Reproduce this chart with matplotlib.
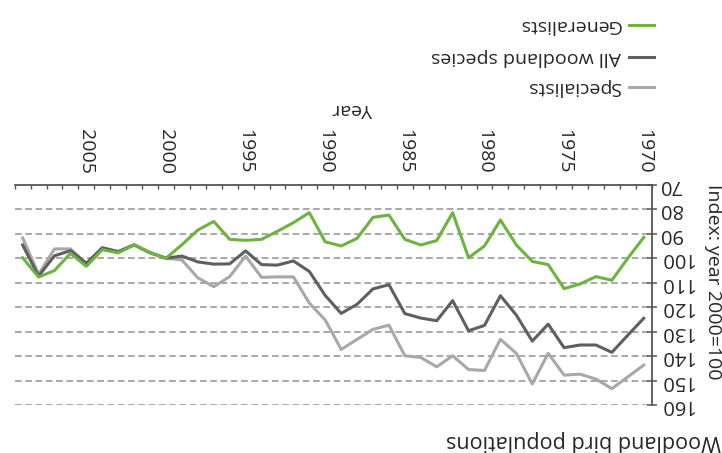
import matplotlib
matplotlib.use('Agg')
import matplotlib.pyplot as plt
from matplotlib.lines import Line2D

plt.rcParams['font.family'] = ['Open Sans', 'DejaVu Sans']
plt.rcParams['lines.scale_dashes'] = False

# ---- data ----
years = list(range(1970, 2010))
generalists = [91.5, 100.0, 109.0, 107.5, 110.5, 112.4, 102.6, 101.3, 94.6, 84.4,
               95.0, 99.8, 81.4, 92.8, 94.6, 92.3, 82.4, 83.3, 91.9, 95.0,
               93.3, 81.4, 85.5, 89.0, 92.3, 92.7, 92.3, 85.0, 88.5, 94.5,
               100.0, 97.7, 94.6, 97.8, 96.5, 103.3, 98.0, 105.0, 107.7, 99.8]
all_woodland = [124.5, 131.4, 138.4, 135.4, 135.4, 136.5, 126.9, 133.8, 123.2, 115.3,
                127.4, 129.6, 117.3, 125.5, 124.4, 122.6, 110.8, 112.5, 118.8, 122.5,
                115.2, 105.4, 101.1, 102.8, 102.6, 97.0, 102.3, 102.4, 101.5, 99.1,
                100.0, 97.8, 94.6, 97.3, 95.7, 102.1, 96.9, 99.0, 107.3, 94.6]
specialists = [143.6, 148.4, 153.2, 149.3, 147.3, 147.7, 138.8, 151.3, 138.8, 133.1,
               145.8, 145.4, 139.8, 144.3, 140.5, 139.8, 127.3, 129.0, 133.1, 137.2,
               125.2, 118.3, 107.6, 107.6, 107.8, 99.1, 107.5, 111.6, 108.0, 100.7,
               100.0, 97.7, 94.4, 97.3, 96.0, 102.1, 96.2, 96.2, 106.5, 91.7]
series_names = ['Generalists', 'All woodland species', 'Specialists']
x_tick_years = [1970, 1975, 1980, 1985, 1990, 1995, 2000, 2005]
y_ticks = [70, 80, 90, 100, 110, 120, 130, 140, 150, 160]
title_text = 'Woodland bird populations'
ylabel_text = 'Index: year 2000=100'
xlabel_text = 'Year'

# ---- style ----
c_green = '#6cb33f'
c_dark = '#5f5f5f'
c_light = '#a8a8a8'
c_axis = '#555555'
c_text = '#262626'
W, H = 722, 453

fig = plt.figure(figsize=(W / 100, H / 100), dpi=100)
x0, x1 = 14.7, 651.7
y0, y1 = 184.7, 405.3
ax = fig.add_axes([x0 / W, 1 - y1 / H, (x1 - x0) / W, (y1 - y0) / H])
ax.set_xlim(years[-1] + 0.5, years[0] - 0.5)
ax.set_ylim(y_ticks[-1], y_ticks[0])

for v in y_ticks[1:]:
    ax.axhline(v, color='#9a9a9a', lw=1.2, dashes=(4.8, 2.6), zorder=1)

ax.plot(years, specialists, color=c_light, lw=2.2, zorder=3)
ax.plot(years, all_woodland, color=c_dark, lw=2.2, zorder=4)
ax.plot(years, generalists, color=c_green, lw=2.2, zorder=5)

for s in ['left', 'bottom']:
    ax.spines[s].set_visible(False)
for s in ['right', 'top']:
    ax.spines[s].set_color(c_axis)
    ax.spines[s].set_linewidth(1.3)

# y axis (right side, upside down labels)
ax.yaxis.tick_right()
ax.set_yticks(y_ticks)
ax.set_yticklabels([str(v) for v in y_ticks], fontsize=14.5, color=c_text)
for t in ax.get_yticklabels():
    t.set_rotation(180)
    t.set_va('center')
ax.tick_params(axis='y', which='both', direction='inout', length=7, width=1.1,
               color=c_axis, pad=2, left=False, right=True,
               labelleft=False, labelright=True)

# x axis (top, labels rotated)
ax.set_xticks(x_tick_years)
ax.set_xticklabels([str(v) for v in x_tick_years], fontsize=14, color=c_text,
                   rotation=270)
ax.set_xticks([y + 0.5 for y in [years[0] - 1] + years], minor=True)
ax.tick_params(axis='x', which='both', top=True, bottom=False,
               labeltop=True, labelbottom=False)
ax.tick_params(axis='x', which='major', length=0, pad=8)
ax.tick_params(axis='x', which='minor', direction='in', length=3, width=1,
               color=c_axis)

# axis titles
fig.text(353 / W, 1 - 109 / H, xlabel_text, rotation=180, fontsize=14,
         color=c_text, ha='center', va='center')
fig.text(713 / W, 1 - 282 / H, ylabel_text, rotation=270, fontsize=14,
         color=c_text, ha='center', va='center')
fig.text(721 / W, 1 - 441 / H, title_text, rotation=180, fontsize=15.5,
         color=c_text, ha='right', va='center')

# legend (manual, upside down)
leg_colors = [c_green, c_dark, c_light]
leg_y = [25, 57, 87]
for name, col, yy in zip(series_names, leg_colors, leg_y):
    fig.add_artist(Line2D([629 / W, 654 / W], [1 - yy / H, 1 - yy / H],
                          color=col, lw=2.2, transform=fig.transFigure))
    fig.text(621 / W, 1 - yy / H, name, rotation=180, fontsize=14,
             color=c_text, ha='right', va='center')

fig.savefig('out.png', dpi=100)
